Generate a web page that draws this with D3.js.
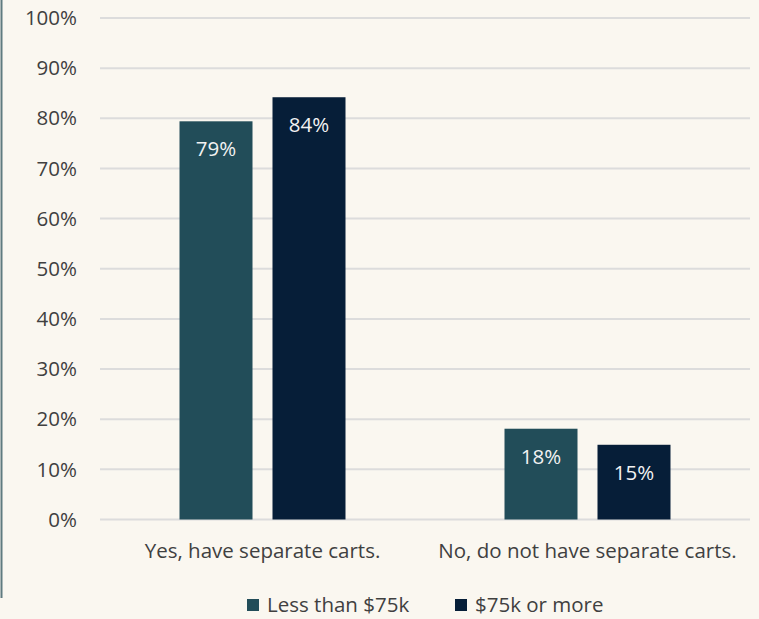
<!DOCTYPE html>
<html>
<head>
<meta charset="utf-8">
<script src="https://cdn.jsdelivr.net/npm/d3@7"></script>
<style>
  html, body { margin: 0; padding: 0; background: #faf7f0; }
  #app { width: 759px; height: 619px; }
</style>
</head>
<body>
<div id="app"></div>
<script>
const categories = ["Yes, have separate carts.", "No, do not have separate carts."];
const series = ["Less than $75k", "$75k or more"];
const lowIncome = [79.4, 18.1];
const highIncome = [84.2, 14.9];
const yTicks = [0, 10, 20, 30, 40, 50, 60, 70, 80, 90, 100];
const colors = ["#224d59", "#061e38"];

function drawChart(targetDiv) {
  const width = 759, height = 619;
  const margin = {top: 18, right: 9, bottom: 99, left: 100};
  const font = "'Open Sans', sans-serif";
  const fontSize = 20.5;

  const svg = d3.select(targetDiv).append("svg")
    .attr("width", width)
    .attr("height", height);

  svg.append("rect")
    .attr("width", width).attr("height", height)
    .attr("fill", "#faf7f0");

  // thin frame line on the left edge
  svg.append("line")
    .attr("x1", 1.5).attr("x2", 1.5)
    .attr("y1", 0).attr("y2", 598)
    .attr("stroke", "#5f7b80").attr("stroke-width", 2);

  const x0 = d3.scaleBand()
    .domain(categories)
    .range([margin.left, width - margin.right]);

  const x1 = d3.scaleBand()
    .domain(series)
    .range([-83, 83])
    .paddingInner(0.215);

  const y = d3.scaleLinear()
    .domain([0, 100])
    .range([height - margin.bottom - 0.5, margin.top]);

  // gridlines
  svg.append("g")
    .selectAll("line")
    .data(yTicks)
    .join("line")
    .attr("x1", margin.left).attr("x2", width - margin.right)
    .attr("y1", d => y(d)).attr("y2", d => y(d))
    .attr("stroke", "#dcdcdc").attr("stroke-width", 2);

  // y labels
  svg.append("g")
    .selectAll("text")
    .data(yTicks)
    .join("text")
    .attr("x", 77)
    .attr("y", d => y(d))
    .attr("dy", "0.35em")
    .attr("text-anchor", "end")
    .attr("font-family", font)
    .attr("font-size", fontSize)
    .attr("fill", "#404040")
    .text(d => d + "%");

  const rows = categories.map((c, i) => ({
    category: c,
    values: [lowIncome[i], highIncome[i]]
  }));

  const groups = svg.append("g")
    .selectAll("g")
    .data(rows)
    .join("g")
    .attr("transform", d => `translate(${x0(d.category) + x0.bandwidth() / 2},0)`);

  const bars = groups.selectAll("g")
    .data(d => d.values.map((v, j) => ({series: series[j], value: v, idx: j})))
    .join("g");

  bars.append("rect")
    .attr("x", d => x1(d.series))
    .attr("width", x1.bandwidth())
    .attr("y", d => y(d.value))
    .attr("height", d => y(0) - y(d.value))
    .attr("fill", d => colors[d.idx]);

  bars.append("text")
    .attr("x", d => x1(d.series) + x1.bandwidth() / 2)
    .attr("y", d => y(d.value) + 28)
    .attr("dy", "0.35em")
    .attr("text-anchor", "middle")
    .attr("font-family", font)
    .attr("font-size", fontSize)
    .attr("fill", "#f2f2f2")
    .text(d => Math.round(d.value) + "%");

  // category labels
  svg.append("g")
    .selectAll("text")
    .data(categories)
    .join("text")
    .attr("x", d => x0(d) + x0.bandwidth() / 2)
    .attr("y", 551)
    .attr("dy", "0.35em")
    .attr("text-anchor", "middle")
    .attr("font-family", font)
    .attr("font-size", fontSize)
    .attr("fill", "#404040")
    .text(d => d);

  // legend
  const legendX = [247, 455];
  const legend = svg.append("g")
    .selectAll("g")
    .data(series)
    .join("g")
    .attr("transform", (d, i) => `translate(${legendX[i]},605)`);

  legend.append("rect")
    .attr("x", 0).attr("y", -6)
    .attr("width", 12).attr("height", 12)
    .attr("fill", (d, i) => colors[i]);

  legend.append("text")
    .attr("x", 20)
    .attr("dy", "0.35em")
    .attr("font-family", font)
    .attr("font-size", fontSize)
    .attr("fill", "#404040")
    .text(d => d);
}

drawChart("#app");
</script>
</body>
</html>
